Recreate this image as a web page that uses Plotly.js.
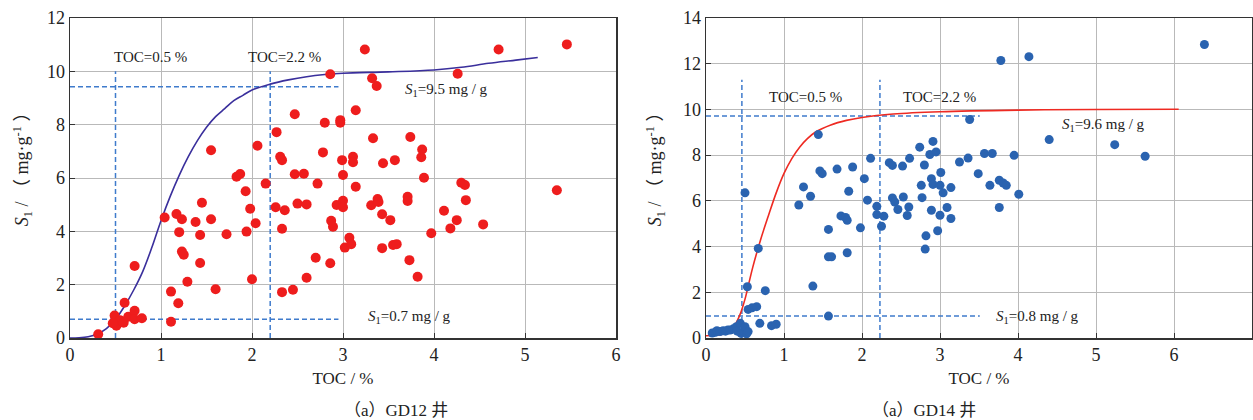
<!DOCTYPE html>
<html><head><meta charset="utf-8">
<script src="https://cdn.plot.ly/plotly-3.0.1.min.js"></script>
<style>html,body{margin:0;padding:0;background:#fff}#chart{width:1253px;height:420px}</style>
</head><body><div id="chart"></div>
<script>
// ---- GD12 (left) ----
const gd12_toc = [0.31,0.49,0.51,0.55,0.59,0.60,0.64,0.71,0.71,0.71,0.79,0.47,
1.04,1.11,1.11,1.17,1.19,1.20,1.23,1.23,1.25,1.29,1.38,1.43,1.43,1.45,1.55,1.55,1.60,1.72,1.83,1.87,1.93,1.94,1.98,2.00,2.04,2.06,2.15,2.26,2.27,2.31,2.33,2.33,2.33,2.36,2.45,2.47,2.47,2.50,2.57,2.60,2.60,2.70,2.72,2.78,2.80,2.86,2.86,2.87,2.89,2.93,2.97,2.97,2.99,3.00,3.00,3.00,3.02,3.07,3.09,3.11,3.11,3.14,3.14,3.24,3.31,3.32,3.33,3.37,3.38,3.39,3.43,3.43,3.44,3.52,3.55,3.59,3.57,3.71,3.71,3.73,3.74,3.82,3.86,3.87,3.89,3.97,4.11,4.18,4.25,4.26,4.30,4.34,4.35,4.54,4.71,5.35,5.46];
const gd12_s1 = [0.14,0.84,0.46,0.67,0.57,1.32,0.80,2.70,1.02,0.70,0.74,0.55,
4.52,1.74,0.61,4.65,1.30,3.97,4.45,3.24,3.12,2.11,4.35,3.86,2.81,5.07,4.45,7.04,1.83,3.89,6.05,6.15,5.50,3.99,4.85,2.20,4.30,7.21,5.79,4.90,7.72,6.80,6.67,4.10,1.72,4.79,1.81,8.39,6.14,5.04,6.16,5.01,2.26,3.01,5.79,6.96,8.07,9.89,2.80,4.40,4.17,4.99,8.17,8.07,6.67,6.11,5.15,4.90,3.39,3.76,3.52,6.80,6.59,8.54,5.67,10.82,4.98,9.74,7.49,9.45,5.21,5.10,4.64,3.37,6.55,4.42,3.49,3.52,6.67,5.30,5.14,2.92,7.54,2.30,6.78,7.07,6.01,3.93,4.77,4.11,4.42,9.91,5.82,5.74,5.17,4.26,10.82,5.54,11.01];
const gd12_curve_toc = [0,0.1,0.2,0.3,0.4,0.5,0.6,0.7,0.8,0.9,1.0,1.1,1.2,1.3,1.4,1.5,1.6,1.7,1.8,1.9,2.0,2.2,2.4,2.6,2.8,3.0,3.5,4.0,4.3,4.6,4.9,5.14];
const gd12_curve_s1  = [0,0.01,0.05,0.15,0.35,0.7,1.2,1.8,2.5,3.4,4.4,5.3,6.1,6.8,7.4,7.9,8.3,8.6,8.9,9.1,9.3,9.52,9.68,9.8,9.88,9.93,9.98,10.05,10.15,10.3,10.42,10.52];
const gd12_toc_cut = [0.5, 2.2];
const gd12_s1_cut = [9.42, 0.7];
const gd12_line_end = 2.95;
const gd12_vline_top = 10;

// ---- GD14 (right) ----
const gd14_toc = [0.08,0.12,0.14,0.18,0.22,0.25,0.28,0.31,0.35,0.39,0.40,0.44,0.45,0.48,0.50,0.52,0.54,0.50,0.53,0.54,0.59,0.65,0.67,0.69,0.76,0.84,0.90,
1.19,1.25,1.34,1.37,1.44,1.46,1.49,1.57,1.57,1.61,1.57,1.68,1.73,1.79,1.81,1.81,1.83,1.88,1.98,2.03,2.07,2.11,2.19,2.19,2.25,2.28,2.35,2.39,2.39,2.42,2.46,2.52,2.53,2.58,2.60,2.61,2.74,2.76,2.77,2.80,2.81,2.82,2.87,2.89,2.89,2.91,2.91,2.95,2.97,3.00,3.00,3.01,3.04,3.09,3.14,3.14,3.25,3.36,3.38,3.49,3.57,3.64,3.67,3.76,3.76,3.78,3.81,3.85,3.95,4.01,4.14,4.40,5.24,5.63,6.39];
const gd14_s1 = [0.22,0.25,0.32,0.28,0.32,0.30,0.35,0.35,0.40,0.49,0.30,0.64,0.20,0.28,0.49,0.18,0.28,6.35,2.24,1.25,1.32,1.37,3.92,0.64,2.07,0.54,0.60,
5.82,6.61,6.20,2.27,8.90,7.31,7.19,4.75,3.55,3.55,0.96,7.39,5.34,5.27,5.15,3.73,6.42,7.48,4.82,6.97,6.03,7.86,5.76,5.40,4.89,5.33,7.67,7.55,6.13,5.95,5.62,7.52,6.17,5.36,5.73,7.86,8.35,6.68,6.14,7.57,3.89,4.47,8.03,6.97,5.59,8.60,6.72,8.14,4.69,6.68,5.37,7.24,6.35,5.71,6.58,5.23,7.70,7.87,9.56,7.19,8.07,6.68,8.07,6.90,5.71,12.14,6.78,6.68,7.99,6.29,12.31,8.68,8.46,7.95,12.84];
const gd14_curve_toc = [0,0.2,0.3,0.35,0.4,0.45,0.5,0.55,0.6,0.7,0.8,0.9,1.0,1.1,1.2,1.3,1.4,1.6,1.8,2.0,2.4,3.0,4.0,5.0,6.06];
const gd14_curve_s1  = [0.1,0.15,0.28,0.45,0.75,1.15,1.7,2.4,3.1,4.3,5.35,6.35,7.2,7.85,8.35,8.72,9.0,9.32,9.52,9.65,9.8,9.9,9.97,10.0,10.01];
const gd14_toc_cut = [0.46, 2.23];
const gd14_s1_cut = [9.71, 0.96];
const gd14_line_end = 3.51;
const gd14_vline_top = 11.3;

const tickX12 = [0,1,2,3,4,5,6], tickY12 = [0,2,4,6,8,10,12];
const tickX14 = [0,1,2,3,4,5,6,7], tickY14 = [0,2,4,6,8,10,12,14];

const dashColor = '#3f7bcc';
function cutTraces(tocCut, s1Cut, lineEnd, vTop, xa, ya){
  const t = [];
  tocCut.forEach(v => t.push({x:[v,v], y:[0,vTop], xaxis:xa, yaxis:ya, mode:'lines', line:{color:dashColor, width:1.5, dash:'5px,3px'}, hoverinfo:'skip', showlegend:false}));
  s1Cut.forEach(v => t.push({x:[0,lineEnd], y:[v,v], xaxis:xa, yaxis:ya, mode:'lines', line:{color:dashColor, width:1.5, dash:'5px,3px'}, hoverinfo:'skip', showlegend:false}));
  return t;
}

const traces = [
  ...cutTraces(gd12_toc_cut, gd12_s1_cut, gd12_line_end, gd12_vline_top, 'x', 'y'),
  {x:gd12_curve_toc, y:gd12_curve_s1, xaxis:'x', yaxis:'y', mode:'lines', line:{color:'#3a2f9c', width:1.6, shape:'spline', smoothing:1}, showlegend:false},
  {x:gd12_toc, y:gd12_s1, xaxis:'x', yaxis:'y', mode:'markers', marker:{color:'#ee1d1d', size:10}, showlegend:false},
  ...cutTraces(gd14_toc_cut, gd14_s1_cut, gd14_line_end, gd14_vline_top, 'x2', 'y2'),
  {x:gd14_curve_toc, y:gd14_curve_s1, xaxis:'x2', yaxis:'y2', mode:'lines', line:{color:'#ee2a22', width:1.6, shape:'spline', smoothing:1}, showlegend:false},
  {x:gd14_toc, y:gd14_s1, xaxis:'x2', yaxis:'y2', mode:'markers', marker:{color:'#2a63b0', size:9}, showlegend:false}
];

const axBase = {showgrid:true, gridcolor:'#b9b9b9', gridwidth:1, zeroline:false, showline:true, linecolor:'#333', linewidth:1.5, mirror:true, ticks:'inside', ticklen:5, tickcolor:'#333', tickfont:{size:18, color:'#222'}, fixedrange:true};
const W = 1253;
const S1title = '<i>S</i><sub>1</sub> / （ mg·g<sup>-1</sup> ）';

const layout = {
  width:1253, height:420,
  margin:{l:0, r:0, t:18, b:82},
  paper_bgcolor:'#fff', plot_bgcolor:'#fff',
  font:{family:'"Liberation Serif", "Noto Sans CJK SC", serif', color:'#222'},
  xaxis: Object.assign({}, axBase, {domain:[70/W, 616/W], range:[0,6], tickvals:tickX12, anchor:'y', title:{text:'TOC / %', font:{size:17}, standoff:8}}),
  yaxis: Object.assign({}, axBase, {range:[0,12], tickvals:tickY12, anchor:'x'}),
  xaxis2: Object.assign({}, axBase, {domain:[706/W, 1252/W], range:[0,7], tickvals:tickX14, anchor:'y2', title:{text:'TOC / %', font:{size:17}, standoff:8}}),
  yaxis2: Object.assign({}, axBase, {range:[0,14], tickvals:tickY14, anchor:'x2'}),
  annotations:[
    {xref:'x', yref:'y', x:0.88, y:10.53, text:'TOC=0.5 %', showarrow:false, font:{size:15}},
    {xref:'x', yref:'y', x:2.36, y:10.53, text:'TOC=2.2 %', showarrow:false, font:{size:15}},
    {xref:'x', yref:'y', x:4.14, y:9.3, text:'<i>S</i><sub>1</sub>=9.5 mg / g', showarrow:false, font:{size:15}},
    {xref:'x', yref:'y', x:3.73, y:0.8, text:'<i>S</i><sub>1</sub>=0.7 mg / g', showarrow:false, font:{size:15}},
    {xref:'x2', yref:'y2', x:1.27, y:10.54, text:'TOC=0.5 %', showarrow:false, font:{size:15}},
    {xref:'x2', yref:'y2', x:2.99, y:10.54, text:'TOC=2.2 %', showarrow:false, font:{size:15}},
    {xref:'x2', yref:'y2', x:5.09, y:9.34, text:'<i>S</i><sub>1</sub>=9.6 mg / g', showarrow:false, font:{size:15}},
    {xref:'x2', yref:'y2', x:4.25, y:0.93, text:'<i>S</i><sub>1</sub>=0.8 mg / g', showarrow:false, font:{size:15}},
    {xref:'paper', yref:'paper', x:22/W, y:0.54, text:S1title, textangle:-90, showarrow:false, font:{size:18}, xanchor:'center'},
    {xref:'paper', yref:'paper', x:655/W, y:0.54, text:S1title, textangle:-90, showarrow:false, font:{size:18}, xanchor:'center'},
    {xref:'paper', yref:'paper', x:342/W, y:-72/320, text:'（a）GD12 井', showarrow:false, font:{size:17}, yanchor:'middle'},
    {xref:'paper', yref:'paper', x:978/W, y:-72/320, text:'（a）GD14 井', showarrow:false, font:{size:17}, yanchor:'middle'}
  ]
};
Plotly.newPlot('chart', traces, layout, {displayModeBar:false, staticPlot:true});
</script></body></html>
